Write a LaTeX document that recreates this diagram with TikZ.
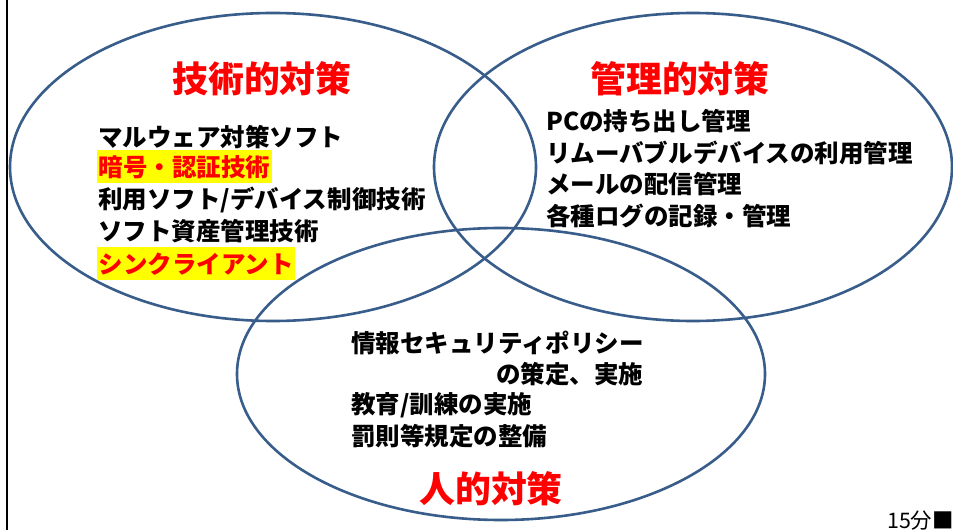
\documentclass[tikz,border=0pt]{standalone}
\usepackage{fontspec}
\setmainfont{Noto Sans CJK JP}
\usetikzlibrary{shapes.geometric}
\definecolor{ellblue}{RGB}{56,93,138}
\definecolor{hlyellow}{RGB}{255,255,0}
\definecolor{titlered}{RGB}{255,0,0}
\tikzset{
  venn/.style={ellipse, draw=ellblue, line width=2.6bp, inner sep=0pt},
  title/.style={font=\fontsize{36}{40}\selectfont\bfseries, text=titlered, inner sep=0pt},
  item/.style={font=\fontsize{24.6}{28}\selectfont\bfseries, text=black, anchor=west, inner sep=0pt},
  hl/.style={item, text=titlered, fill=hlyellow, inner xsep=1.5bp, minimum height=33bp},
  note/.style={font=\fontsize{21.5}{24}\selectfont, anchor=east, inner sep=0pt}
}
\begin{document}
\begin{tikzpicture}[x=1bp,y=-1bp]
\useasboundingbox (0,0) rectangle (953,530);
\fill[white] (0,0) rectangle (953,530);
% left frame line
\coordinate (ftop) at (7,0);
\coordinate (fbot) at (7,530);
\draw[line width=2.4bp, black] (ftop) -- (fbot);
% ellipses
\node[venn, minimum width=526bp, minimum height=308bp] (tech) at (273,167) {};
\node[venn, minimum width=518bp, minimum height=308bp] (mgmt) at (693,167) {};
\node[venn, minimum width=528bp, minimum height=292bp] (human) at (501,374) {};
% titles
\node[title] (t1) at (262,79) {技術的対策};
\node[title] (t2) at (680,79) {管理的対策};
\node[title] (t3) at (491,489) {人的対策};
% left list
\node[item] (l1) at (98,137) {マルウェア対策ソフト};
\node[hl, anchor=west] (l2) at (97,167) {暗号・認証技術};
\node[item] (l3) at (98,200) {利用ソフト/デバイス制御技術};
\node[item] (l4) at (98,231.5) {ソフト資産管理技術};
\node[hl, anchor=west] (l5) at (97,264) {シンクライアント};
% right list
\node[item] (r1) at (546,121) {PCの持ち出し管理};
\node[item] (r2) at (546,153) {リムーバブルデバイスの利用管理};
\node[item] (r3) at (546,184.5) {メールの配信管理};
\node[item] (r4) at (546,216) {各種ログの記録・管理};
% bottom list
\node[item] (b1) at (351,343) {情報セキュリティポリシー};
\node[item] (b2) at (496,374) {の策定、実施};
\node[item] (b3) at (351,405) {教育/訓練の実施};
\node[item] (b4) at (351,436) {罰則等規定の整備};
% page note
\node[note] (pg) at (954,521) {15分■};
\end{tikzpicture}
\end{document}
